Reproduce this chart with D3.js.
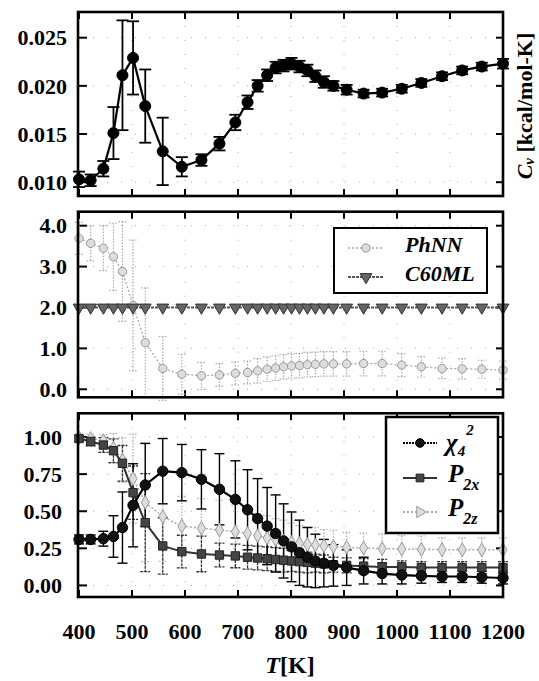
<!DOCTYPE html>
<html><head><meta charset="utf-8">
<script src="https://cdn.jsdelivr.net/npm/d3@7"></script>
<style>
body{margin:0;background:#fff}
svg{display:block}
text{font-family:"Liberation Serif","Times New Roman",serif;font-weight:bold;fill:#000}
</style>
</head><body><svg id="c" width="539" height="681"></svg>
<script>
// ---------- data ----------
const temps = [400, 422, 446, 465, 482, 502, 525, 558, 594, 631, 665, 695, 718, 737, 755, 771, 786, 801, 816, 831, 846, 862, 880, 905, 937, 972, 1009, 1046, 1085, 1123, 1160, 1200];
const xTickValues = [400, 500, 600, 700, 800, 900, 1000, 1100, 1200];

const cv    = [0.0103, 0.0102, 0.0114, 0.0151, 0.0211, 0.0229, 0.0179, 0.0132, 0.0116, 0.0123, 0.0140, 0.0162, 0.0183, 0.0200, 0.0211, 0.0219, 0.0221, 0.0223, 0.0220, 0.0216, 0.0210, 0.0204, 0.0200, 0.0196, 0.0192, 0.0193, 0.0197, 0.0203, 0.0210, 0.0216, 0.0220, 0.0223];
const cvErr = [0.0008, 0.0006, 0.0008, 0.0027, 0.0057, 0.0038, 0.0038, 0.0035, 0.0010, 0.0006, 0.0007, 0.0008, 0.0007, 0.0006, 0.0006, 0.0006, 0.0006, 0.0006, 0.0006, 0.0006, 0.0006, 0.0006, 0.0005, 0.0005, 0.0004, 0.0004, 0.0004, 0.0004, 0.0004, 0.0004, 0.0004, 0.0005];
const cvTicks = [0.010, 0.015, 0.020, 0.025];

const phnn    = [3.69, 3.57, 3.45, 3.24, 2.88, 2.05, 1.14, 0.51, 0.37, 0.33, 0.35, 0.39, 0.41, 0.45, 0.49, 0.52, 0.55, 0.57, 0.58, 0.60, 0.61, 0.62, 0.62, 0.62, 0.63, 0.63, 0.59, 0.55, 0.51, 0.50, 0.49, 0.47];
const phnnErr = [0.39, 0.43, 0.55, 0.82, 1.22, 1.60, 1.34, 0.78, 0.49, 0.33, 0.28, 0.28, 0.28, 0.30, 0.30, 0.30, 0.30, 0.30, 0.30, 0.30, 0.30, 0.30, 0.30, 0.30, 0.30, 0.30, 0.28, 0.25, 0.25, 0.25, 0.22, 0.22];
const c60ml   = [2.0, 2.0, 2.0, 2.0, 2.0, 2.0, 2.0, 2.0, 2.0, 2.0, 2.0, 2.0, 2.0, 2.0, 2.0, 2.0, 2.0, 2.0, 2.0, 2.0, 2.0, 2.0, 2.0, 2.0, 2.0, 2.0, 2.0, 2.0, 2.0, 2.0, 2.0, 2.0];
const midTicks = [0, 1, 2, 3, 4];

const chi     = [0.31, 0.31, 0.315, 0.33, 0.39, 0.54, 0.677, 0.77, 0.76, 0.715, 0.648, 0.58, 0.51, 0.45, 0.40, 0.35, 0.30, 0.26, 0.22, 0.19, 0.165, 0.15, 0.135, 0.12, 0.10, 0.08, 0.07, 0.065, 0.06, 0.06, 0.055, 0.05];
const chiErr  = [0.03, 0.03, 0.05, 0.14, 0.24, 0.28, 0.28, 0.22, 0.19, 0.20, 0.24, 0.26, 0.27, 0.27, 0.26, 0.26, 0.25, 0.235, 0.22, 0.20, 0.18, 0.16, 0.14, 0.12, 0.09, 0.07, 0.06, 0.05, 0.04, 0.04, 0.04, 0.04];
const p2x     = [0.99, 0.97, 0.946, 0.908, 0.823, 0.625, 0.423, 0.266, 0.228, 0.212, 0.205, 0.199, 0.19, 0.185, 0.18, 0.175, 0.17, 0.165, 0.16, 0.155, 0.15, 0.145, 0.14, 0.135, 0.13, 0.125, 0.125, 0.12, 0.12, 0.12, 0.12, 0.12];
const p2xErr  = [0.02, 0.03, 0.05, 0.08, 0.12, 0.18, 0.33, 0.19, 0.11, 0.12, 0.08, 0.08, 0.08, 0.08, 0.08, 0.08, 0.08, 0.07, 0.07, 0.07, 0.06, 0.06, 0.05, 0.05, 0.05, 0.05, 0.04, 0.04, 0.04, 0.04, 0.04, 0.04];
const p2z     = [0.995, 0.99, 0.975, 0.924, 0.845, 0.72, 0.56, 0.463, 0.40, 0.385, 0.374, 0.362, 0.35, 0.335, 0.32, 0.31, 0.30, 0.29, 0.283, 0.277, 0.272, 0.267, 0.262, 0.257, 0.252, 0.248, 0.245, 0.243, 0.241, 0.24, 0.24, 0.24];
const p2zErr  = [0.02, 0.03, 0.04, 0.10, 0.15, 0.30, 0.40, 0.30, 0.20, 0.20, 0.20, 0.18, 0.16, 0.15, 0.15, 0.14, 0.14, 0.13, 0.12, 0.12, 0.12, 0.11, 0.11, 0.10, 0.10, 0.10, 0.09, 0.09, 0.08, 0.08, 0.08, 0.08];
const botTicks = [0, 0.25, 0.5, 0.75, 1.0];

// ---------- layout ----------
const svg = d3.select("#c");
const x = d3.scaleLinear().domain([400, 1200]).range([79, 503]);

const yTop = d3.scaleLinear().domain([0.008568, 0.027666]).range([196, 12]);
const yMid = d3.scaleLinear().domain([-0.196, 4.342]).range([397.3, 211.7]);
const yBot = d3.scaleLinear().domain([-0.078, 1.16]).range([597, 413.3]);

function panel(y, ticks, fmt, labelX) {
  const g = svg.append("g");
  const [y0, y1] = y.range();
  const x0 = x.range()[0], x1 = x.range()[1];
  g.selectAll("line.gx").data(xTickValues.slice(1, -1)).enter().append("line")
    .attr("x1", d => x(d)).attr("x2", d => x(d)).attr("y1", y1).attr("y2", y0)
    .attr("stroke", "#aaa").attr("stroke-width", 1).attr("stroke-dasharray", "1,13");
  g.selectAll("line.gy").data(ticks).enter().append("line")
    .attr("x1", x0).attr("x2", x1).attr("y1", d => y(d)).attr("y2", d => y(d))
    .attr("stroke", "#aaa").attr("stroke-width", 1).attr("stroke-dasharray", "1,13");
  xTickValues.forEach(v => {
    g.append("line").attr("x1", x(v)).attr("x2", x(v)).attr("y1", y0).attr("y2", y0 - 7).attr("stroke", "#000").attr("stroke-width", 2);
    g.append("line").attr("x1", x(v)).attr("x2", x(v)).attr("y1", y1).attr("y2", y1 + 7).attr("stroke", "#000").attr("stroke-width", 2);
  });
  ticks.forEach(v => {
    g.append("line").attr("x1", x0).attr("x2", x0 + 8).attr("y1", y(v)).attr("y2", y(v)).attr("stroke", "#000").attr("stroke-width", 2);
    g.append("line").attr("x1", x1).attr("x2", x1 - 7).attr("y1", y(v)).attr("y2", y(v)).attr("stroke", "#000").attr("stroke-width", 2);
    g.append("text").attr("x", labelX).attr("y", y(v)).attr("dy", "0.35em")
      .attr("text-anchor", "end").attr("font-size", 22).text(fmt(v));
  });
  return g;
}

function frame(y) {
  const [y0, y1] = y.range();
  svg.append("rect").attr("x", x.range()[0] - 1).attr("y", y1).attr("width", x.range()[1] - x.range()[0] + 1)
    .attr("height", y0 - y1).attr("fill", "none").attr("stroke", "#000").attr("stroke-width", 2.6);
}

function errBars(y, vals, errs, color, width, dash, cap) {
  const g = svg.append("g").attr("stroke", color).attr("stroke-width", width).attr("fill", "none");
  if (dash) g.attr("stroke-dasharray", dash);
  temps.forEach((t, i) => {
    const cx = x(t), top = y(vals[i] + errs[i]), bot = y(vals[i] - errs[i]);
    g.append("line").attr("x1", cx).attr("x2", cx).attr("y1", top).attr("y2", bot);
    g.append("line").attr("x1", cx - cap).attr("x2", cx + cap).attr("y1", top).attr("y2", top);
    g.append("line").attr("x1", cx - cap).attr("x2", cx + cap).attr("y1", bot).attr("y2", bot);
  });
}

function seriesLine(y, vals, color, width, dash) {
  const line = d3.line().x((d, i) => x(temps[i])).y(d => y(d));
  const p = svg.append("path").datum(vals).attr("d", line).attr("fill", "none")
    .attr("stroke", color).attr("stroke-width", width);
  if (dash) p.attr("stroke-dasharray", dash);
}

function markers(y, vals, type, size, fill, stroke, rot) {
  const sym = d3.symbol().type(type).size(size);
  svg.append("g").selectAll("path").data(vals).enter().append("path")
    .attr("d", sym)
    .attr("transform", (d, i) => `translate(${x(temps[i])},${y(d)})` + (rot ? ` rotate(${rot})` : ""))
    .attr("fill", fill).attr("stroke", stroke).attr("stroke-width", 1);
}

// ---------- top panel: Cv ----------
panel(yTop, cvTicks, d3.format(".3f"), 67);
errBars(yTop, cv, cvErr, "#000", 1.8, null, 6);
seriesLine(yTop, cv, "#000", 2.2);
markers(yTop, cv, d3.symbolCircle, 95, "#000", "#000");
frame(yTop);

const rl = svg.append("text").attr("transform", "translate(524,106) rotate(-90)")
  .attr("text-anchor", "middle").attr("dominant-baseline", "central").attr("font-size", 22);
rl.append("tspan").attr("font-style", "italic").text("C");
rl.append("tspan").attr("font-style", "italic").attr("font-size", 15).attr("dy", 5).text("v");
rl.append("tspan").attr("dy", -5).text(" [kcal/mol-K]");

// ---------- middle panel ----------
panel(yMid, midTicks, d3.format(".1f"), 67);
errBars(yMid, phnn, phnnErr, "#aaa", 1.2, "1.5,1.5", 4);
seriesLine(yMid, phnn, "#aaa", 1.3, "2,2");
markers(yMid, phnn, d3.symbolCircle, 55, "#ddd", "#999");
seriesLine(yMid, c60ml, "#555", 1.8, "3,1");
markers(yMid, c60ml, d3.symbolTriangle, 60, "#666", "#333", 180);
frame(yMid);

const lg1 = svg.append("g");
lg1.append("rect").attr("x", 334).attr("y", 228).attr("width", 153).attr("height", 65)
  .attr("fill", "#fff").attr("stroke", "#000").attr("stroke-width", 2);
lg1.append("line").attr("x1", 348).attr("x2", 383).attr("y1", 248).attr("y2", 248).attr("stroke", "#aaa").attr("stroke-width", 1.3).attr("stroke-dasharray", "2,2");
lg1.append("path").attr("d", d3.symbol().type(d3.symbolCircle).size(55)).attr("transform", "translate(366,248)").attr("fill", "#ddd").attr("stroke", "#999");
lg1.append("text").attr("x", 405).attr("y", 252).attr("font-size", 22).attr("font-style", "italic").text("PhNN");
lg1.append("line").attr("x1", 348).attr("x2", 383).attr("y1", 277).attr("y2", 277).attr("stroke", "#555").attr("stroke-width", 1.8).attr("stroke-dasharray", "3,1");
lg1.append("path").attr("d", d3.symbol().type(d3.symbolTriangle).size(60)).attr("transform", "translate(366,277) rotate(180)").attr("fill", "#666").attr("stroke", "#333");
lg1.append("text").attr("x", 405).attr("y", 281).attr("font-size", 22).attr("font-style", "italic").text("C60ML");

// ---------- bottom panel ----------
panel(yBot, botTicks, d3.format(".2f"), 62);
errBars(yBot, p2z, p2zErr, "#aaa", 1.2, "1.5,1.5", 4);
errBars(yBot, p2x, p2xErr, "#333", 1.3, "3,1", 5);
errBars(yBot, chi, chiErr, "#000", 1.4, null, 5);
seriesLine(yBot, p2z, "#aaa", 1.5, "2,2");
markers(yBot, p2z, d3.symbolDiamond, 55, "#ddd", "#999");
seriesLine(yBot, p2x, "#333", 2);
markers(yBot, p2x, d3.symbolSquare, 70, "#444", "#222");
seriesLine(yBot, chi, "#000", 2.2);
markers(yBot, chi, d3.symbolCircle, 85, "#111", "#000");
frame(yBot);

const lg2 = svg.append("g");
lg2.append("rect").attr("x", 386).attr("y", 417).attr("width", 112).attr("height", 116)
  .attr("fill", "#fff").attr("stroke", "#000").attr("stroke-width", 2.5);
const legRows = [
  {y: 443, color: "#000", dash: "2,1", sym: d3.symbolCircle, size: 60, fill: "#111", stroke: "#000", rot: 0},
  {y: 478, color: "#333", dash: null, sym: d3.symbolSquare, size: 60, fill: "#444", stroke: "#222", rot: 0},
  {y: 512, color: "#aaa", dash: "2,2", sym: d3.symbolTriangle, size: 55, fill: "#ddd", stroke: "#999", rot: 90}
];
legRows.forEach(r => {
  const l = lg2.append("line").attr("x1", 403).attr("x2", 437).attr("y1", r.y).attr("y2", r.y).attr("stroke", r.color).attr("stroke-width", 1.8);
  if (r.dash) l.attr("stroke-dasharray", r.dash);
  lg2.append("path").attr("d", d3.symbol().type(r.sym).size(r.size))
    .attr("transform", `translate(420,${r.y}) rotate(${r.rot})`).attr("fill", r.fill).attr("stroke", r.stroke);
});
const t1 = lg2.append("text").attr("x", 446).attr("y", 451).attr("font-size", 25).attr("font-style", "italic");
t1.append("tspan").text("χ");
t1.append("tspan").attr("font-size", 15).attr("dy", 5).text("4");
t1.append("tspan").attr("font-size", 15).attr("dx", 1).attr("dy", -21).text("2");
const t2 = lg2.append("text").attr("x", 448).attr("y", 482).attr("font-size", 25).attr("font-style", "italic");
t2.append("tspan").text("P");
t2.append("tspan").attr("font-size", 16).attr("dy", 8).text("2x");
const t3 = lg2.append("text").attr("x", 448).attr("y", 516).attr("font-size", 25).attr("font-style", "italic");
t3.append("tspan").text("P");
t3.append("tspan").attr("font-size", 16).attr("dy", 8).text("2z");

// ---------- x axis labels ----------
svg.append("g").selectAll("text").data(xTickValues).enter().append("text")
  .attr("x", d => x(d)).attr("y", 639).attr("text-anchor", "middle").attr("font-size", 22).text(d => d);
const xl = svg.append("text").attr("x", 290).attr("y", 673).attr("text-anchor", "middle").attr("font-size", 24);
xl.append("tspan").attr("font-style", "italic").text("T");
xl.append("tspan").text("[K]");
</script>
</body></html>
